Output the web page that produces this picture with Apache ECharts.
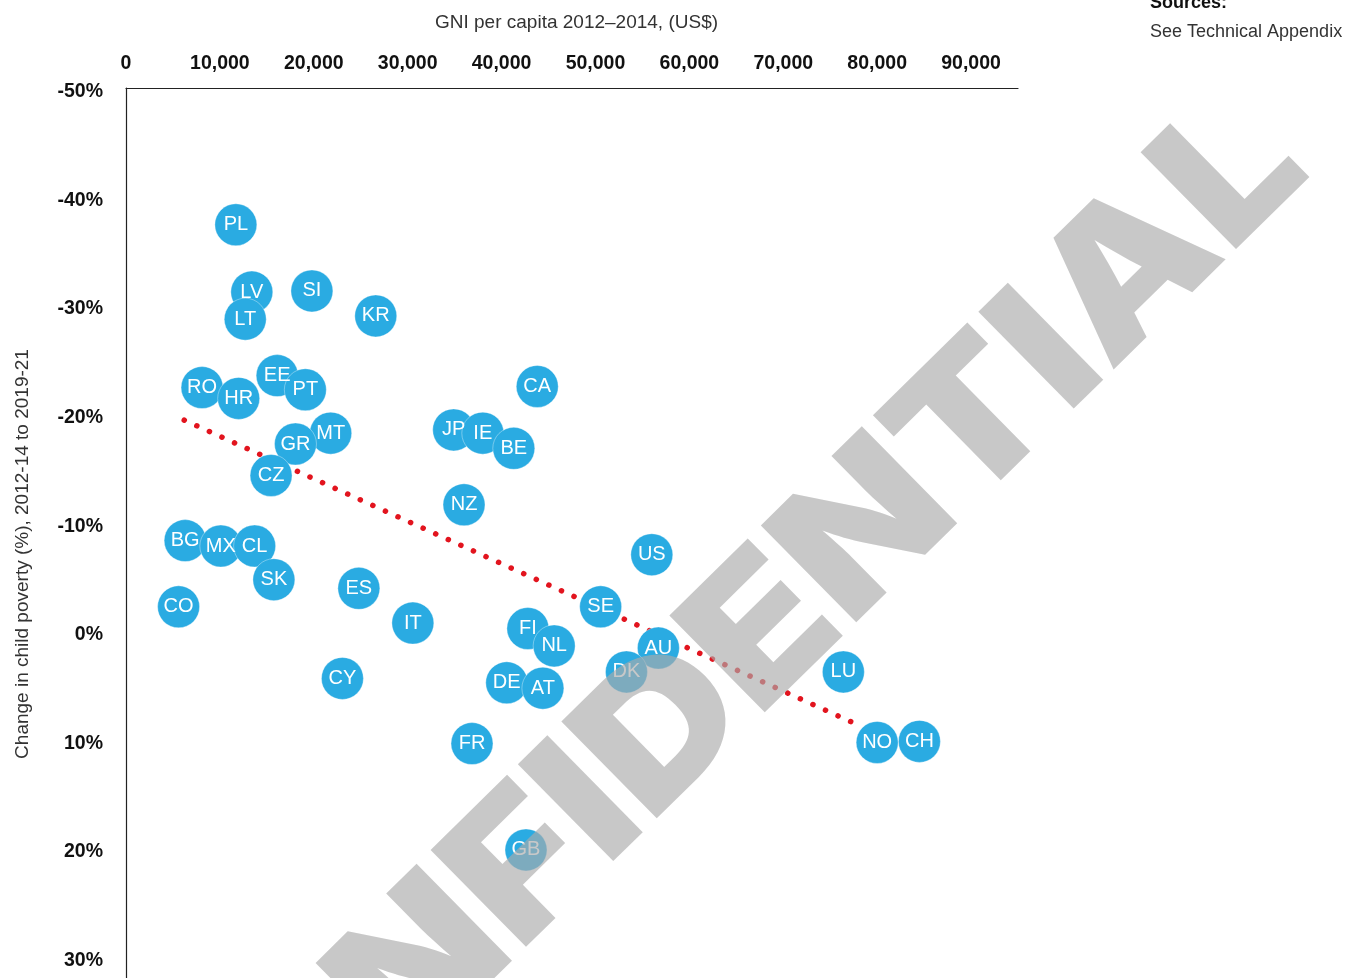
<!DOCTYPE html>
<html>
<head>
<meta charset="utf-8">
<script src="https://cdn.jsdelivr.net/npm/echarts@6/dist/echarts.min.js"></script>
<style>
html,body{margin:0;padding:0;background:#fff;}
#chart{width:1352px;height:978px;}
</style>
</head>
<body>
<div id="chart"></div>
<script>
// Country codes
var countries = ['PL','LV','SI','LT','KR','RO','HR','EE','PT','CA','JP','IE','BE','NZ','MT','GR','CZ','BG','MX','CL','US','SK','ES','CO','SE','IT','FI','NL','AU','DK','LU','CY','DE','AT','FR','NO','CH','GB'];
// GNI per capita 2012-2014 (US$)
var gni = [11700,13400,19800,12700,26600,8100,12000,16100,19100,43800,34900,38000,41300,36000,21800,18050,15450,6300,10100,13700,56000,15750,24800,5600,50550,30550,42800,45600,56700,53300,76400,23050,40550,44400,36850,80000,84500,42600];
// Change in child poverty (%), 2012-14 to 2019-21
var povertyChange = [-37.4,-31.2,-31.3,-28.7,-29.0,-22.4,-21.4,-23.5,-22.2,-22.5,-18.5,-18.2,-16.8,-11.6,-18.2,-17.2,-14.3,-8.3,-7.8,-7.8,-7.0,-4.7,-3.9,-2.2,-2.2,-0.7,-0.2,1.4,1.6,3.8,3.8,4.4,4.8,5.3,10.4,10.3,10.2,20.2];
// Trend line end points [GNI, change]
var trendX = [6200, 77500];
var trendY = [-19.4, 8.5];
// Axis ticks
var xTicks = [0,10000,20000,30000,40000,50000,60000,70000,80000,90000];
var yTicks = [-50,-40,-30,-20,-10,0,10,20,30];

var points = countries.map(function(c,i){ return [gni[i], povertyChange[i], c]; });
var trend = trendX.map(function(x,i){ return [x, trendY[i]]; });

var FONT = '"Liberation Sans", Arial, Helvetica, sans-serif';
var chart = echarts.init(document.getElementById('chart'), null, {renderer:'canvas'});
chart.setOption({
  animation:false,
  backgroundColor:'#fff',
  grid:{left:126, top:88, width:892, height:892, containLabel:false},
  xAxis:{
    type:'value', position:'top', min:0, max:95000, interval:10000,
    name:'GNI per capita 2012\u20132014, (US$)', nameLocation:'middle', nameGap:56,
    nameTextStyle:{fontFamily:FONT, fontSize:19, color:'#333', padding:[0,0,0,9]},
    axisLine:{show:true, onZero:false, lineStyle:{color:'#222', width:1.2}},
    axisTick:{show:false}, splitLine:{show:false},
    axisLabel:{show:true, margin:14, showMaxLabel:false, fontFamily:FONT, fontWeight:'bold', fontSize:19.5, color:'#111',
      formatter:function(v){ return xTicks.indexOf(v)>=0 ? v.toLocaleString('en-US') : ''; }}
  },
  yAxis:{
    type:'value', inverse:true, min:-50, max:32, interval:10,
    name:'Change in child poverty (%), 2012-14 to 2019-21', nameLocation:'middle', nameGap:94,
    nameTextStyle:{fontFamily:FONT, fontSize:19, color:'#333', padding:[0,42,0,0]},
    axisLine:{show:true, onZero:false, lineStyle:{color:'#222', width:1.2}},
    axisTick:{show:false}, splitLine:{show:false},
    axisLabel:{show:true, margin:23, showMaxLabel:false, fontFamily:FONT, fontWeight:'bold', fontSize:19.5, color:'#111',
      verticalAlign:'top', lineHeight:8,
      formatter:function(v){ return yTicks.indexOf(v)>=0 ? v + '%' : ''; }}
  },
  series:[
    {
      type:'line', data:trend, symbol:'none', z:1, silent:true,
      lineStyle:{color:'#e2141e', width:5.5, type:[0.1,13.7], cap:'round'}
    },
    {
      type:'scatter', data:points, symbolSize:42, z:3,
      itemStyle:{color:'#2aabe2', opacity:1, borderColor:'rgba(255,255,255,0.45)', borderWidth:0.8},
      label:{show:true, position:'inside', color:'#fff', fontFamily:FONT, fontSize:20,
        formatter:function(p){ return p.data[2]; }},
      encode:{x:0, y:1}
    }
  ],
  graphic:{
    elements:[
      {type:'text', left:1150, top:-6, z:50,
        style:{text:'Sources:', font:'bold 18px ' + FONT, fill:'#111'}},
      {type:'text', left:1150, top:23, z:50,
        style:{text:'See Technical Appendix', font:'18px ' + FONT, fill:'#333'}},
      {type:'text', x:1274, y:133, rotation:44.5 * Math.PI / 180, scaleX:1.12, scaleY:1, z:100, silent:true,
        style:{text:'CONFIDENTIAL', font:'900 187px Inter, "Liberation Sans", sans-serif', fill:'rgba(170,170,170,0.65)', align:'right', verticalAlign:'middle', textAlign:'right', textVerticalAlign:'middle'}}
    ]
  }
});
</script>
</body>
</html>
